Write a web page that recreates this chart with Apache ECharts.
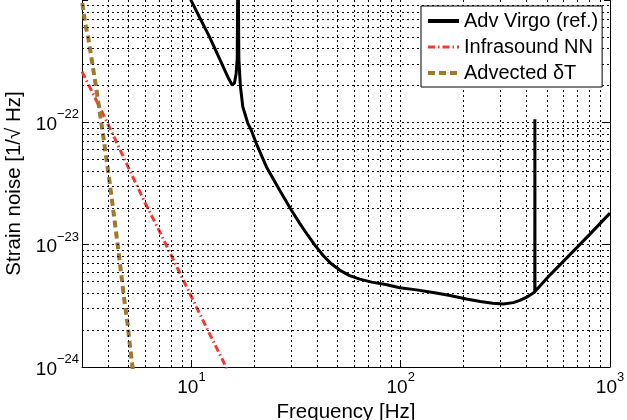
<!DOCTYPE html>
<html><head><meta charset="utf-8">
<script src="https://cdn.jsdelivr.net/npm/echarts@6/dist/echarts.min.js"></script>
<style>html,body{margin:0;padding:0;background:#fff}#c{width:627px;height:420px}</style>
</head><body><div id="c"></div>
<script>
// ---- data (strain in 1/sqrt(Hz)) ----
const virgoFreq   = [9.5, 10.0, 10.9, 12.2, 13.6, 14.9, 15.65, 15.9, 16.05, 16.35, 16.55, 16.7, 16.85, 17.0, 17.15, 17.6, 18.6, 19.3, 20.4, 22.8, 26.4, 30.0, 32.86, 35.89, 39.2, 42.81, 46.76, 51.07, 57.02, 63.66, 72.64, 84.76, 99.0, 119.0, 143.0, 172.0, 206.0, 240.0, 275.0, 309.0, 345.0, 371.0, 400.0, 437.2, 437.6, 438.0, 516.0, 620.0, 802.0, 1000.0];
const virgoStrain = [1.2e-21, 9.8e-22, 7.3e-22, 5.0e-22, 3.33e-22, 2.36e-22, 2.02e-22, 1.99e-22, 2.09e-22, 2.5e-22, 3.3e-22, 3.0e-21, 3.3e-22, 2.5e-22, 1.95e-22, 1.34e-22, 9.8e-23, 8.65e-23, 6.74e-23, 4.34e-23, 2.79e-23, 1.92e-23, 1.5e-23, 1.2e-23, 9.74e-24, 8.07e-24, 6.94e-24, 6.2e-24, 5.59e-24, 5.23e-24, 4.94e-24, 4.72e-24, 4.45e-24, 4.27e-24, 4.07e-24, 3.84e-24, 3.6e-24, 3.43e-24, 3.32e-24, 3.27e-24, 3.36e-24, 3.5e-24, 3.72e-24, 4.1e-24, 1.06e-22, 4.15e-24, 5.64e-24, 7.76e-24, 1.22e-23, 1.81e-23];

const infraFreq   = [3.0, 3.5, 4.0, 5.0, 6.0, 7.0, 8.0, 10.0, 12.0, 14.0, 15.5];
const infraStrain = [2.6e-22, 1.53e-22, 9.6e-23, 4.27e-23, 2.2e-23, 1.31e-23, 8.2e-24, 3.75e-24, 1.98e-24, 1.17e-24, 7.96e-25];

const deltaTFreq   = [3.01, 3.111, 3.215, 3.323, 3.435, 3.55, 3.669, 3.793, 3.921, 4.053, 4.188, 4.329, 4.475, 4.626, 4.779, 4.941, 5.107, 5.278];
const deltaTStrain = [9.45e-22, 6.36e-22, 4.89e-22, 3.42e-22, 2.39e-22, 1.67e-22, 1.13e-22, 7.64e-23, 5.1e-23, 3.37e-23, 2.19e-23, 1.41e-23, 9.03e-24, 5.64e-24, 3.52e-24, 2.33e-24, 1.4e-24, 8.75e-25];

const seriesNames = ['Adv Virgo (ref.)', 'Infrasound NN', 'Advected \u03B4T'];
const xTickValues = [10, 100, 1000];
const yTickValues = [1e-24, 1e-23, 1e-22];
const xGridValues = [4, 5, 6, 7, 8, 9, 10, 20, 30, 40, 50, 60, 70, 80, 90, 100, 200, 300, 400, 500, 600, 700, 800, 900];
const yGridValues = [2e-24, 3e-24, 4e-24, 5e-24, 6e-24, 7e-24, 8e-24, 9e-24,
                     1e-23, 2e-23, 3e-23, 4e-23, 5e-23, 6e-23, 7e-23, 8e-23, 9e-23,
                     1e-22, 2e-22, 3e-22, 4e-22, 5e-22, 6e-22, 7e-22, 8e-22, 9e-22];
const yRange = [1e-24, 1e-21];

// ---- chart ----
// The y axis works in units of 1e-24 (ECharts' log scale mishandles values this small).
const UNIT_EXP = -24;
const toUnit = h => h * 1e24;
const FONT = '"Liberation Sans", Arial, Helvetica, sans-serif';
const pairs = (xs, ys) => xs.map((x, i) => [x, toUnit(ys[i])]);
const near = (a, b) => Math.abs(Math.log10(a) - Math.log10(b)) < 1e-6;
const rich = {
  b: {fontSize: 19, fontFamily: FONT, color: '#000', lineHeight: 33},
  s: {fontSize: 13, fontFamily: FONT, color: '#000', verticalAlign: 'top', lineHeight: 13}
};
const yAxisBase = {type: 'log', logBase: 10, min: toUnit(yRange[0]), max: toUnit(yRange[1])};
const legendWidths = [4, 3, 4];

const chart = echarts.init(document.getElementById('c'), null, {renderer: 'canvas'});
chart.setOption({
  animation: false,
  backgroundColor: '#fff',
  grid: {left: 82, right: 17, top: 0, bottom: 53, containLabel: false, outerBoundsMode: 'none'},
  legend: {
    data: seriesNames.map((n, i) => ({name: n, lineStyle: {width: legendWidths[i]}})),
    orient: 'vertical', left: 421, top: 6, z: 20,
    backgroundColor: '#fff', borderColor: '#000', borderWidth: 1, borderRadius: 0,
    padding: [5, 4, 4, 5], itemGap: 6, itemWidth: 31, itemHeight: 14,
    itemStyle: {opacity: 0},
    textStyle: {fontSize: 20, fontFamily: FONT, color: '#000'}
  },
  xAxis: {
    type: 'log', logBase: 10, min: 3, max: 1000,
    name: 'Frequency [Hz]', nameLocation: 'middle', nameGap: 21,
    nameTextStyle: {fontSize: 20.5, fontFamily: FONT, color: '#000'},
    axisLine: {show: true, lineStyle: {color: '#000', width: 1}},
    axisTick: {show: true, inside: true, length: 6, lineStyle: {color: '#000'}},
    axisLabel: {
      margin: 4, rich: rich, showMinLabel: true, showMaxLabel: true,
      formatter: v => xTickValues.some(t => near(v, t)) ? '{b|10}{s|' + Math.round(Math.log10(v)) + '}' : ''
    },
    splitLine: {show: false}
  },
  yAxis: [Object.assign({}, yAxisBase, {
    name: 'Strain noise [1/\u221A Hz]', nameLocation: 'middle', nameGap: 56,
    nameTextStyle: {fontSize: 20.5, fontFamily: FONT, color: '#000'},
    axisLine: {show: true, lineStyle: {color: '#000', width: 1}},
    axisTick: {show: true, inside: true, length: 6, lineStyle: {color: '#000'}},
    axisLabel: {
      margin: 3, rich: rich, padding: [5, 0, 0, 0], showMinLabel: true,
      formatter: v => yTickValues.some(t => near(v, toUnit(t)))
        ? '{b|10}{s|\u2212' + (-(Math.round(Math.log10(v)) + UNIT_EXP)) + '}' : ''
    },
    splitLine: {show: false}
  }), Object.assign({}, yAxisBase, {
    position: 'right',
    axisLine: {show: true, lineStyle: {color: '#000', width: 1}},
    axisTick: {show: true, inside: true, length: 6, lineStyle: {color: '#000'}},
    axisLabel: {show: false},
    splitLine: {show: false}
  })],
  series: [
    {
      name: 'gridlines', type: 'line', data: [[3, 1]], symbol: 'none', silent: true, z: 1,
      lineStyle: {opacity: 0},
      markLine: {
        silent: true, symbol: ['none', 'none'], animation: false,
        label: {show: false},
        lineStyle: {color: '#000', width: 1, type: [2, 3], opacity: 1},
        emphasis: {disabled: true},
        data: xGridValues.map(v => ({xAxis: v})).concat(yGridValues.map(v => ({yAxis: toUnit(v)})))
      }
    },
    {
      name: seriesNames[0], type: 'line', data: pairs(virgoFreq, virgoStrain),
      symbol: 'none', showSymbol: false, z: 5, clip: true,
      lineStyle: {color: '#000', width: 3}, itemStyle: {color: '#000'}
    },
    {
      name: seriesNames[1], type: 'line', data: pairs(infraFreq, infraStrain),
      symbol: 'none', showSymbol: false, z: 4, clip: true,
      lineStyle: {color: '#f23a2e', width: 3, type: [7, 3, 1.5, 3]}, itemStyle: {color: '#f23a2e'}
    },
    {
      name: seriesNames[2], type: 'line', data: pairs(deltaTFreq, deltaTStrain),
      symbol: 'none', showSymbol: false, z: 4, clip: true,
      lineStyle: {color: '#a07a2a', width: 4, type: [7, 4]}, itemStyle: {color: '#a07a2a'}
    }
  ]
});
</script>
</body></html>
